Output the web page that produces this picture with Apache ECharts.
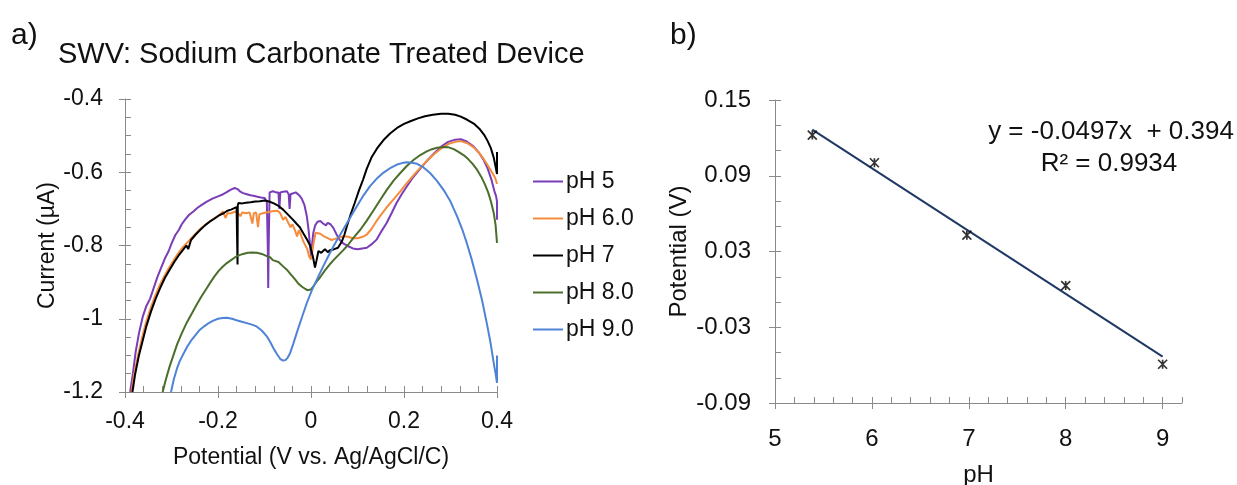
<!DOCTYPE html>
<html>
<head>
<meta charset="utf-8">
<script src="https://cdn.jsdelivr.net/npm/echarts@6/dist/echarts.min.js"></script>
<style>
html,body{margin:0;padding:0;background:#fff;}
#chart{width:1237px;height:485px;}
</style>
</head>
<body>
<div id="chart"></div>
<script>
// ---------- Data: panel a) SWV curves [potential V, current uA] ----------
const seriesNames = ['pH 5', 'pH 6.0', 'pH 7', 'pH 8.0', 'pH 9.0'];
const seriesColors = ['#7a3db8', '#f58c3c', '#000000', '#4b6e2b', '#4e83d6'];

const ph5 = [[-0.389,-1.20],[-0.383,-1.15],[-0.377,-1.09],[-0.370,-1.04],[-0.362,-0.995],[-0.354,-0.965],[-0.346,-0.945],[-0.338,-0.915],[-0.330,-0.885],[-0.322,-0.86],[-0.314,-0.835],[-0.306,-0.815],[-0.300,-0.795],[-0.292,-0.772],[-0.284,-0.757],[-0.278,-0.742],[-0.270,-0.728],[-0.262,-0.716],[-0.253,-0.707],[-0.244,-0.697],[-0.235,-0.689],[-0.224,-0.680],[-0.212,-0.672],[-0.200,-0.666],[-0.189,-0.660],[-0.182,-0.655],[-0.176,-0.650],[-0.170,-0.646],[-0.164,-0.643],[-0.158,-0.646],[-0.152,-0.653],[-0.146,-0.657],[-0.138,-0.660],[-0.130,-0.663],[-0.124,-0.664],[-0.115,-0.667],[-0.108,-0.669],[-0.100,-0.670],[-0.095,-0.680],[-0.093,-0.80],[-0.092,-0.916],[-0.091,-0.80],[-0.089,-0.655],[-0.082,-0.652],[-0.075,-0.655],[-0.070,-0.655],[-0.068,-0.70],[-0.066,-0.655],[-0.060,-0.653],[-0.052,-0.652],[-0.048,-0.66],[-0.046,-0.70],[-0.044,-0.66],[-0.040,-0.655],[-0.033,-0.655],[-0.026,-0.662],[-0.020,-0.672],[-0.014,-0.69],[-0.009,-0.72],[-0.005,-0.76],[-0.002,-0.80],[0.000,-0.83],[0.002,-0.80],[0.005,-0.765],[0.009,-0.745],[0.014,-0.735],[0.020,-0.733],[0.026,-0.74],[0.032,-0.745],[0.036,-0.738],[0.042,-0.742],[0.048,-0.752],[0.055,-0.77],[0.062,-0.785],[0.070,-0.795],[0.080,-0.802],[0.090,-0.808],[0.100,-0.81],[0.110,-0.808],[0.120,-0.806],[0.130,-0.797],[0.141,-0.784],[0.152,-0.760],[0.163,-0.738],[0.174,-0.710],[0.184,-0.684],[0.195,-0.660],[0.206,-0.639],[0.220,-0.613],[0.235,-0.590],[0.250,-0.568],[0.265,-0.548],[0.280,-0.530],[0.295,-0.517],[0.310,-0.511],[0.322,-0.510],[0.335,-0.516],[0.350,-0.530],[0.362,-0.548],[0.372,-0.568],[0.380,-0.59],[0.388,-0.62],[0.394,-0.65],[0.398,-0.665],[0.400,-0.68],[0.400,-0.73],[0.400,-0.70]];

const ph6 = [[-0.386,-1.20],[-0.380,-1.15],[-0.372,-1.10],[-0.364,-1.055],[-0.356,-1.015],[-0.346,-0.975],[-0.336,-0.94],[-0.326,-0.91],[-0.316,-0.885],[-0.306,-0.862],[-0.296,-0.842],[-0.286,-0.822],[-0.276,-0.805],[-0.266,-0.792],[-0.256,-0.778],[-0.246,-0.765],[-0.236,-0.752],[-0.226,-0.742],[-0.216,-0.733],[-0.206,-0.724],[-0.196,-0.716],[-0.189,-0.707],[-0.184,-0.725],[-0.180,-0.712],[-0.172,-0.712],[-0.164,-0.708],[-0.158,-0.71],[-0.152,-0.72],[-0.148,-0.71],[-0.140,-0.712],[-0.132,-0.71],[-0.126,-0.74],[-0.123,-0.712],[-0.118,-0.71],[-0.114,-0.75],[-0.111,-0.715],[-0.104,-0.712],[-0.096,-0.71],[-0.088,-0.708],[-0.080,-0.706],[-0.072,-0.705],[-0.066,-0.712],[-0.060,-0.73],[-0.055,-0.722],[-0.050,-0.735],[-0.044,-0.75],[-0.040,-0.742],[-0.034,-0.76],[-0.030,-0.775],[-0.026,-0.758],[-0.022,-0.77],[-0.016,-0.79],[-0.012,-0.80],[-0.008,-0.81],[-0.004,-0.83],[0.000,-0.838],[0.002,-0.84],[0.006,-0.79],[0.010,-0.765],[0.014,-0.76],[0.020,-0.768],[0.028,-0.775],[0.036,-0.78],[0.044,-0.785],[0.052,-0.782],[0.060,-0.778],[0.070,-0.775],[0.080,-0.776],[0.090,-0.78],[0.100,-0.78],[0.110,-0.777],[0.120,-0.77],[0.130,-0.755],[0.140,-0.735],[0.150,-0.717],[0.162,-0.697],[0.177,-0.675],[0.192,-0.652],[0.206,-0.630],[0.220,-0.609],[0.235,-0.588],[0.250,-0.568],[0.265,-0.550],[0.280,-0.535],[0.295,-0.523],[0.310,-0.517],[0.322,-0.515],[0.335,-0.52],[0.350,-0.532],[0.362,-0.548],[0.372,-0.565],[0.382,-0.585],[0.390,-0.602],[0.396,-0.615],[0.400,-0.632]];

const ph7 = [[-0.384,-1.20],[-0.378,-1.15],[-0.370,-1.10],[-0.362,-1.06],[-0.354,-1.02],[-0.344,-0.98],[-0.334,-0.945],[-0.324,-0.915],[-0.314,-0.888],[-0.304,-0.866],[-0.294,-0.845],[-0.284,-0.826],[-0.274,-0.81],[-0.268,-0.80],[-0.264,-0.81],[-0.258,-0.785],[-0.248,-0.77],[-0.238,-0.757],[-0.228,-0.745],[-0.218,-0.735],[-0.208,-0.727],[-0.198,-0.718],[-0.188,-0.712],[-0.180,-0.705],[-0.172,-0.702],[-0.165,-0.698],[-0.160,-0.695],[-0.1585,-0.70],[-0.158,-0.852],[-0.1575,-0.69],[-0.156,-0.684],[-0.148,-0.685],[-0.140,-0.683],[-0.130,-0.682],[-0.120,-0.680],[-0.110,-0.679],[-0.100,-0.677],[-0.090,-0.680],[-0.080,-0.685],[-0.070,-0.692],[-0.060,-0.702],[-0.050,-0.715],[-0.040,-0.728],[-0.030,-0.742],[-0.024,-0.750],[-0.016,-0.768],[-0.008,-0.785],[-0.002,-0.80],[0.004,-0.83],[0.0086,-0.86],[0.012,-0.84],[0.016,-0.815],[0.022,-0.82],[0.030,-0.81],[0.036,-0.818],[0.042,-0.812],[0.050,-0.81],[0.058,-0.806],[0.066,-0.79],[0.072,-0.77],[0.077,-0.748],[0.085,-0.716],[0.094,-0.684],[0.103,-0.65],[0.112,-0.62],[0.120,-0.59],[0.130,-0.56],[0.142,-0.535],[0.156,-0.512],[0.170,-0.494],[0.185,-0.479],[0.200,-0.468],[0.215,-0.46],[0.230,-0.453],[0.245,-0.447],[0.262,-0.443],[0.280,-0.44],[0.295,-0.44],[0.310,-0.443],[0.322,-0.448],[0.335,-0.456],[0.350,-0.467],[0.362,-0.481],[0.372,-0.497],[0.380,-0.515],[0.387,-0.535],[0.393,-0.56],[0.397,-0.585],[0.400,-0.605],[0.400,-0.545]];

const ph8 = [[-0.319,-1.20],[-0.312,-1.165],[-0.304,-1.13],[-0.296,-1.10],[-0.288,-1.07],[-0.278,-1.04],[-0.267,-1.01],[-0.256,-0.985],[-0.246,-0.962],[-0.236,-0.94],[-0.226,-0.92],[-0.217,-0.902],[-0.208,-0.885],[-0.199,-0.87],[-0.190,-0.858],[-0.181,-0.848],[-0.172,-0.84],[-0.163,-0.832],[-0.155,-0.827],[-0.146,-0.823],[-0.136,-0.82],[-0.126,-0.819],[-0.116,-0.82],[-0.106,-0.823],[-0.095,-0.829],[-0.088,-0.832],[-0.082,-0.84],[-0.078,-0.835],[-0.070,-0.845],[-0.060,-0.857],[-0.052,-0.866],[-0.044,-0.878],[-0.036,-0.89],[-0.028,-0.903],[-0.020,-0.912],[-0.013,-0.918],[-0.008,-0.922],[-0.004,-0.924],[0.000,-0.92],[0.006,-0.91],[0.013,-0.897],[0.020,-0.886],[0.030,-0.868],[0.040,-0.852],[0.050,-0.838],[0.060,-0.825],[0.070,-0.812],[0.080,-0.798],[0.092,-0.778],[0.106,-0.757],[0.120,-0.732],[0.135,-0.703],[0.149,-0.675],[0.163,-0.648],[0.178,-0.622],[0.192,-0.602],[0.206,-0.583],[0.221,-0.566],[0.235,-0.553],[0.249,-0.543],[0.260,-0.537],[0.271,-0.533],[0.285,-0.531],[0.296,-0.532],[0.307,-0.537],[0.318,-0.545],[0.328,-0.553],[0.338,-0.564],[0.348,-0.578],[0.357,-0.593],[0.366,-0.612],[0.374,-0.633],[0.381,-0.655],[0.387,-0.68],[0.393,-0.711],[0.397,-0.745],[0.400,-0.793]];

const ph9 = [[-0.301,-1.20],[-0.295,-1.165],[-0.288,-1.135],[-0.282,-1.115],[-0.274,-1.095],[-0.266,-1.076],[-0.258,-1.06],[-0.248,-1.044],[-0.239,-1.03],[-0.229,-1.02],[-0.219,-1.011],[-0.210,-1.005],[-0.200,-1.0],[-0.190,-0.998],[-0.181,-0.997],[-0.170,-1.0],[-0.160,-1.004],[-0.149,-1.008],[-0.138,-1.012],[-0.127,-1.016],[-0.117,-1.021],[-0.106,-1.032],[-0.095,-1.048],[-0.088,-1.063],[-0.081,-1.08],[-0.073,-1.097],[-0.066,-1.11],[-0.060,-1.114],[-0.055,-1.113],[-0.050,-1.106],[-0.045,-1.094],[-0.038,-1.068],[-0.031,-1.04],[-0.020,-0.998],[-0.009,-0.957],[0.002,-0.922],[0.0125,-0.893],[0.027,-0.855],[0.041,-0.82],[0.055,-0.787],[0.070,-0.755],[0.085,-0.722],[0.099,-0.692],[0.113,-0.663],[0.127,-0.638],[0.141,-0.618],[0.156,-0.601],[0.170,-0.589],[0.185,-0.579],[0.196,-0.575],[0.206,-0.573],[0.217,-0.574],[0.228,-0.577],[0.242,-0.587],[0.256,-0.602],[0.270,-0.622],[0.285,-0.648],[0.300,-0.68],[0.314,-0.72],[0.325,-0.755],[0.335,-0.793],[0.346,-0.84],[0.357,-0.893],[0.368,-0.95],[0.378,-1.012],[0.386,-1.065],[0.393,-1.121],[0.397,-1.15],[0.400,-1.175],[0.400,-1.10]];

// ---------- Data: panel b) peak potential vs pH ----------
const phValues = [5.385, 6.026, 6.98, 8.0, 9.0];
const peakPotential = [0.1222, 0.1003, 0.0429, 0.0030, -0.0593];
const trendX = [5.385, 9.0];
const trendY = [0.1266, -0.0533];
const equationText = 'y = -0.0497x  + 0.394';
const r2Text = 'R² = 0.9934';

// ---------- Tick settings ----------
const aX = {min: -0.4, max: 0.4, major: 0.2, minor: 0.04};
const aY = {min: -1.2, max: -0.4, major: 0.2, minor: 0.05};
const bX = {min: 5, max: 9.2, major: 1, minor: 0.2};
const bY = {min: -0.09, max: 0.15, major: 0.06, minor: 0.02};

const FONT = '"Liberation Sans", Arial, sans-serif';
const AXIS_GRAY = '#8a8a8a';

function onMajor(v, base, step) {
  const k = Math.round((v - base) / step);
  return Math.abs(v - base - k * step) < 1e-7 ? k : null;
}

function minorAxis(gridIndex, cfg, fmt, labelExtra, extra) {
  return Object.assign({
    type: 'value', gridIndex: gridIndex,
    min: cfg.min, max: cfg.max, interval: cfg.minor,
    axisLine: {show: true, onZero: false, lineStyle: {color: AXIS_GRAY, width: 1}},
    axisTick: {show: true, inside: true, length: 6, lineStyle: {color: AXIS_GRAY, width: 1}},
    splitLine: {show: false},
    axisLabel: Object.assign({
      color: '#111', fontFamily: FONT, fontSize: 23,
      formatter: function (v) {
        const k = onMajor(v, cfg.min, cfg.major);
        if (k === null) return '';
        return fmt(cfg.min + k * cfg.major);
      }
    }, labelExtra || {})
  }, extra || {});
}

function majorAxis(gridIndex, cfg, extra) {
  return Object.assign({
    type: 'value', gridIndex: gridIndex,
    min: cfg.min, max: cfg.max, interval: cfg.major,
    axisLine: {show: false, onZero: false},
    axisTick: {show: true, inside: false, length: 6, lineStyle: {color: AXIS_GRAY, width: 1}},
    splitLine: {show: false},
    axisLabel: {show: false}
  }, extra || {});
}

const fmt1 = v => String(+v.toFixed(1));
const fmt2 = v => { const s = v.toFixed(2); return s === '-0.00' ? '0.00' : s; };
const fmt0 = v => String(Math.round(v));

const nameStyle = {color: '#111', fontFamily: FONT, fontSize: 23};
const nameStyleB = {color: '#111', fontFamily: FONT, fontSize: 24};

const lineData = [ph5, ph6, ph7, ph8, ph9];

const option = {
  animation: false,
  backgroundColor: '#fff',
  textStyle: {fontFamily: FONT},
  title: [
    {text: 'a)', left: 6, top: 16, textStyle: {fontFamily: FONT, fontSize: 30, fontWeight: 'normal', color: '#111'}},
    {text: 'SWV: Sodium Carbonate Treated Device', left: 53, top: 35, textStyle: {fontFamily: FONT, fontSize: 29, fontWeight: 'normal', color: '#111'}},
    {text: 'b)', left: 665, top: 16, textStyle: {fontFamily: FONT, fontSize: 30, fontWeight: 'normal', color: '#111'}}
  ],
  graphic: [
    {type: 'text', x: 1111, y: 132, style: {text: equationText, fontFamily: FONT, fontSize: 26, fill: '#111', textAlign: 'center', textVerticalAlign: 'middle'}},
    {type: 'text', x: 1109, y: 164, style: {text: r2Text, fontFamily: FONT, fontSize: 26, fill: '#111', textAlign: 'center', textVerticalAlign: 'middle'}}
  ],
  legend: {
    orient: 'vertical', left: 533, top: 170, padding: 0,
    icon: 'rect', itemWidth: 30, itemHeight: 2, itemGap: 14,
    data: seriesNames,
    textStyle: {fontFamily: FONT, fontSize: 23, color: '#111', padding: [0, 0, 0, -2]}
  },
  grid: [
    {left: 125, top: 99, width: 372, height: 293, containLabel: false, outerBoundsMode: 'none'},
    {left: 775, top: 100, width: 407, height: 303, containLabel: false, outerBoundsMode: 'none'}
  ],
  xAxis: [
    minorAxis(0, aX, fmt1, {margin: 18}, {position: 'bottom',
      name: 'Potential (V vs. Ag/AgCl/C)', nameLocation: 'middle', nameGap: 54, nameTextStyle: nameStyle}),
    majorAxis(0, aX, {position: 'bottom'}),
    minorAxis(1, bX, fmt0, {margin: 24, fontSize: 24}, {position: 'bottom',
      name: 'pH', nameLocation: 'middle', nameGap: 60, nameTextStyle: nameStyleB}),
    majorAxis(1, bX, {position: 'bottom', axisTick: {show: true, inside: false, length: 6, customValues: [5, 6, 7, 8, 9], lineStyle: {color: AXIS_GRAY, width: 1}}})
  ],
  yAxis: [
    minorAxis(0, aY, fmt1, {margin: 22}, {position: 'left',
      name: 'Current (µA)', nameLocation: 'middle', nameGap: 66, nameRotate: 90, nameTextStyle: nameStyle}),
    majorAxis(0, aY, {position: 'left'}),
    minorAxis(1, bY, fmt2, {margin: 24, fontSize: 24}, {position: 'left',
      name: 'Potential (V)', nameLocation: 'middle', nameGap: 84, nameRotate: 90, nameTextStyle: nameStyleB}),
    majorAxis(1, bY, {position: 'left'})
  ],
  series: seriesNames.map((n, i) => ({
    name: n, type: 'line', xAxisIndex: 0, yAxisIndex: 0,
    data: lineData[i], symbol: 'none', showSymbol: false, smooth: false, clip: true,
    color: seriesColors[i],
    itemStyle: {color: seriesColors[i]},
    lineStyle: {color: seriesColors[i], width: 2},
    z: 2 + i
  })).concat([
    {
      name: 'trend', type: 'line', xAxisIndex: 2, yAxisIndex: 2,
      data: trendX.map((x, i) => [x, trendY[i]]),
      symbol: 'none', lineStyle: {color: '#1f3864', width: 2}, z: 3
    },
    {
      name: 'points', type: 'scatter', xAxisIndex: 2, yAxisIndex: 2,
      data: phValues.map((x, i) => [x, peakPotential[i]]),
      symbol: 'path://M0,0L10,10M10,0L0,10M5,0L5,10', symbolSize: 9,
      itemStyle: {color: '#000', borderColor: '#000', borderWidth: 1.7}, z: 4
    }
  ])
};

const chart = echarts.init(document.getElementById('chart'), null, {renderer: 'canvas'});
chart.setOption(option);
</script>
</body>
</html>
